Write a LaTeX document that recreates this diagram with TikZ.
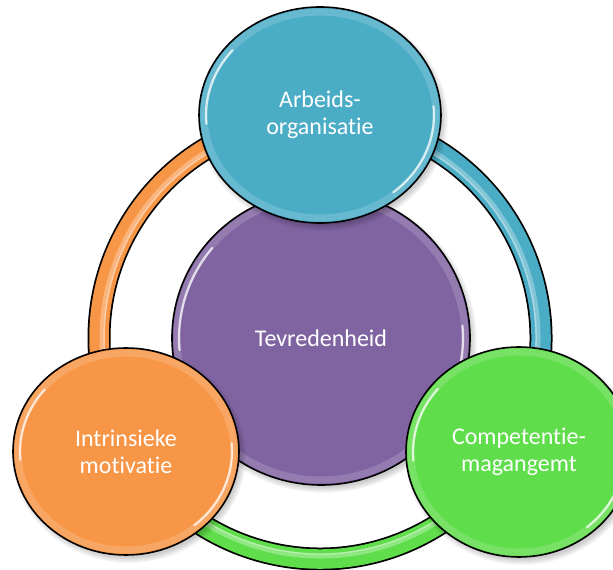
\documentclass[tikz,border=0pt]{standalone}
\usepackage{fontspec}
\setmainfont{Carlito}[Ligatures={NoCommon,NoRare}]
\usetikzlibrary{shapes.geometric}

\definecolor{cBlue}{HTML}{4BACC6}
\definecolor{cOrange}{HTML}{F79646}
\definecolor{cPurple}{HTML}{8064A2}
\definecolor{cGreen}{HTML}{5FDD4B}

% glossy ball: #1 name, #2 x, #3 y, #4 x radius, #5 y radius, #6 colour, #7 text
\newcommand\glossball[7]{%
  \foreach \k in {0,...,6}
    \fill[black, opacity=0.03] (#2+3,#3-4) ellipse [x radius=#4-2+\k, y radius=#5-2+\k];
  \node[ball, fill=#6, minimum width=2*#4, minimum height=2*#5] (#1) at (#2,#3) {};
  \pgfmathsetmacro\ia{#4-5}\pgfmathsetmacro\ib{#5-5}
  \draw[white, opacity=0.16, line width=7] (#1.center) ellipse [x radius=\ia, y radius=\ib];
  \pgfmathsetmacro\ha{#4-7}\pgfmathsetmacro\hb{#5-7}
  \draw[white, opacity=0.75, line width=2.2, line cap=round, shift={(#1.center)}]
    (140:\ha pt and \hb pt) arc[start angle=140, end angle=185, x radius=\ha, y radius=\hb];
  \draw[white, opacity=0.75, line width=2.2, line cap=round, shift={(#1.center)}]
    (-50:\ha pt and \hb pt) arc[start angle=-50, end angle=5, x radius=\ha, y radius=\hb];
  \node[label] at (#1.center) {#7};
}

\begin{document}
\begin{tikzpicture}[x=1pt, y=1pt,
  ball/.style={ellipse, draw=black, line width=1.6, inner sep=0pt},
  label/.style={text=white, align=center, font=\fontsize{24}{27}\selectfont},
  bandout/.style={draw=black, line width=23},
  bandhi/.style={draw=white, line width=5, opacity=0.3}]
\useasboundingbox (0,0) rectangle (613,570);
\clip (0,0) rectangle (613,570);

\coordinate (hub) at (320,232);

% outer cycle ring, split into three coloured bands
\foreach \a/\b/\c in {90/210/cOrange, 210/330/cGreen, -30/90/cBlue}{
  \draw[bandout] (hub) ++(\a:221) arc[start angle=\a, end angle=\b, radius=221];
  \draw[draw=\c, line width=19.5] (hub) ++(\a:221) arc[start angle=\a, end angle=\b, radius=221];
  \draw[bandhi] (hub) ++(\a:218) arc[start angle=\a, end angle=\b, radius=218];
  \draw[white, opacity=0.35, line width=1.5] (hub) ++(\a:216) arc[start angle=\a, end angle=\b, radius=216];
}

\glossball{core}{321}{232}{149}{147}{cPurple}{Tevredenheid}
\glossball{work}{320}{455}{121}{108}{cBlue}{Arbeids-\\organisatie}
\glossball{drive}{126}{118.5}{113}{103.5}{cOrange}{Intrinsieke\\motivatie}
\glossball{skill}{519}{118}{113}{105}{cGreen}{Competentie-\\magangemt}
\end{tikzpicture}
\end{document}
